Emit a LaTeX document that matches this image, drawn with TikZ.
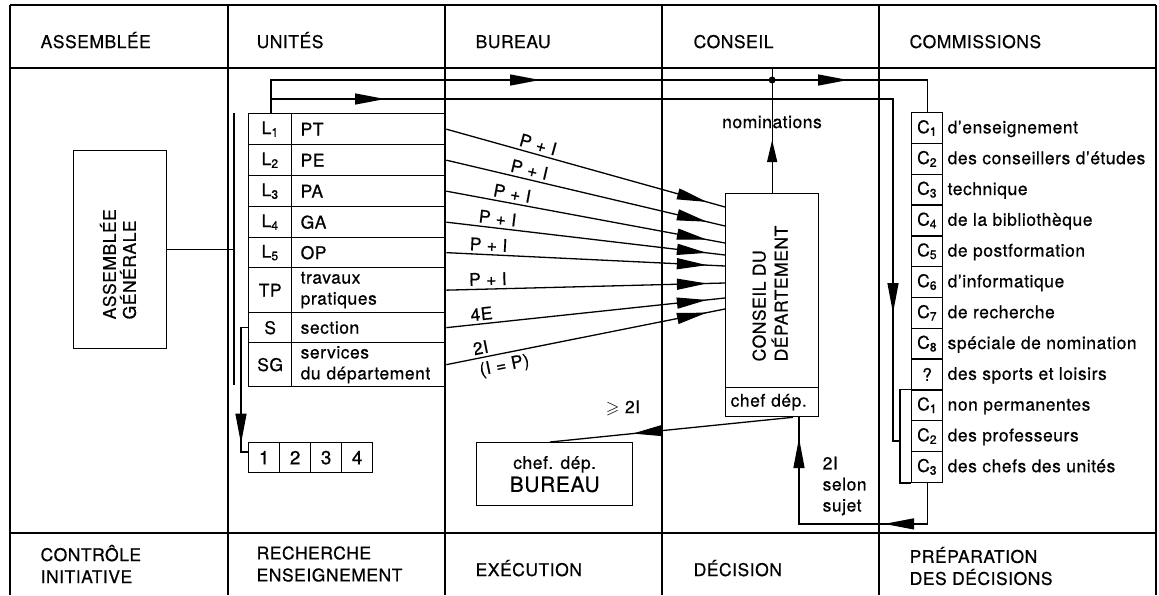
\documentclass[tikz,border=0pt]{standalone}
\usepackage{fontspec}
\setmainfont[LetterSpace=3,FakeBold=0.6]{TeX Gyre Heros}
\usepackage{amssymb}
\usetikzlibrary{arrows.meta,decorations.markings,calc}
\newcommand{\fs}{\fontsize{17.5}{21}\selectfont}
\begin{document}
\begin{tikzpicture}[x=1pt,y=-1pt,line width=1.3pt,
  every node/.style={font=\fs, inner sep=0pt},
  >={Triangle[length=30pt,width=11pt]},
  box/.style={draw, rectangle, inner sep=0pt, anchor=north west},
  code/.style={box, minimum width=43pt, minimum height=#1},
  unit/.style={box, minimum width=154pt, minimum height=#1, text width=136pt, inner xsep=9pt, align=left},
  comm/.style={box, minimum width=31pt, minimum height=30.8pt},
  lab/.style={sloped, above, inner sep=3pt, pos=#1},
  labb/.style={sloped, below, inner sep=4pt, pos=#1},
  amark/.style={postaction={decorate, decoration={markings, mark=at position #1 with {\arrow{>}}}}},
  junction/.style={circle, fill, inner sep=0pt, minimum size=7pt},
]
\useasboundingbox (0,0) rectangle (1159,595);

% frame
\draw (10,5) -- (1156,5);
\foreach \xx in {10,228,445,662,879,1156} \draw (\xx,5) -- (\xx,595);
\draw (10,68) -- (1156,68);
\draw (10,533) -- (1156,533);
\coordinate (hl) at (10,68);

% headers
\node[anchor=base west] (h1) at (40,48) {ASSEMBLÉE};
\node[anchor=base west] (h2) at (256,48) {UNITÉS};
\node[anchor=base west] (h3) at (475,48) {BUREAU};
\node[anchor=base west] (h4) at (693,48) {CONSEIL};
\node[anchor=base west] (h5) at (909,48) {COMMISSIONS};

% footers
\node[anchor=west, align=left, font=\fontsize{17.5}{22}\selectfont] (f1) at (40,564) {CONTRÔLE\\INITIATIVE};
\node[anchor=west, align=left, font=\fontsize{17.5}{22}\selectfont] (f2) at (256,564) {RECHERCHE\\ENSEIGNEMENT};
\node[anchor=base west] (f3) at (475,576) {EXÉCUTION};
\node[anchor=base west] (f4) at (693,576) {DÉCISION};
\node[anchor=west, align=left, font=\fontsize{17.5}{22}\selectfont] (f5) at (909,566) {PRÉPARATION\\DES DÉCISIONS};

% assemblee generale
\node[box, minimum width=93pt, minimum height=198pt] (AG) at (73,150) {};
\node[rotate=90, anchor=west, align=left, font=\fontsize{17.5}{20}\selectfont] (AGt) at (118,320) {ASSEMBLÉE\\GÉNÉRALE};
\coordinate (vt) at (234,113);
\coordinate (vb) at (234,385);
\draw (vt) -- (vb);
\draw (AG.east) -- (AG.east -| vt);

% units table
\node[code=31pt] (cL1) at (248,113) {L\textsubscript{1}};
\node[unit=31pt] (PT) at (291,113) {PT};
\node[code=31pt] (cL2) at (248,144) {L\textsubscript{2}};
\node[unit=31pt] (PE) at (291,144) {PE};
\node[code=31pt] (cL3) at (248,175) {L\textsubscript{3}};
\node[unit=31pt] (PA) at (291,175) {PA};
\node[code=31pt] (cL4) at (248,206) {L\textsubscript{4}};
\node[unit=31pt] (GA) at (291,206) {GA};
\node[code=30pt] (cL5) at (248,237) {L\textsubscript{5}};
\node[unit=30pt] (OP) at (291,237) {OP};
\node[code=45pt] (cTP) at (248,267) {TP};
\node[unit=45pt] (TP) at (291,267) {travaux\\pratiques};
\node[code=30pt] (cS) at (248,312) {S};
\node[unit=30pt] (SE) at (291,312) {section};
\node[code=44pt] (cSG) at (248,342) {SG};
\node[unit=44pt] (SG) at (291,342) {services\\du département};

% 1 2 3 4
\foreach \i in {1,...,4} \node[box, minimum width=31pt, minimum height=30pt, font=\fontsize{19}{21}\selectfont] (n\i) at ({248+31*(\i-1)},442) {\i};
\draw[amark=123pt] (cS.west) -- ++(-7,0) |- ($(n1.north west)+(0,10)$);

% conseil du departement
\node[box, minimum width=93pt, minimum height=194pt] (CD) at (725,193) {};
\node[box, minimum width=93pt, minimum height=29pt, text width=83pt, inner xsep=5pt, align=left] (chef) at (725,387) {chef dép.};
\node[rotate=90, anchor=west, align=left, font=\fontsize{17.5}{22}\selectfont] (CDt) at (770,362) {CONSEIL DU\\DÉPARTEMENT};

% arrows units -> conseil
\coordinate (e1) at ($(CD.north west)+(0,14)$);
\coordinate (e2) at ($(CD.north west)+(0,33)$);
\coordinate (e3) at ($(CD.north west)+(0,50)$);
\coordinate (e4) at ($(CD.north west)+(0,62)$);
\coordinate (e5) at ($(CD.north west)+(0,73)$);
\coordinate (e6) at ($(CD.north west)+(0,90)$);
\coordinate (e7) at ($(CD.north west)+(0,105)$);
\coordinate (e8) at ($(CD.north west)+(0,116)$);
\draw[amark=0.935] (PT.east) -- node[lab=0.32] (p1) {P + I} (e1);
\draw[amark=0.935] (PE.east) -- node[lab=0.29] (p2) {P + I} (e2);
\draw[amark=0.935] (PA.east) -- node[lab=0.23] (p3) {P + I} (e3);
\draw[amark=0.935] (GA.east) -- node[lab=0.18] (p4) {P + I} (e4);
\draw[amark=0.935] (OP.east) -- node[lab=0.15] (p5) {P + I} (e5);
\draw[amark=0.935] (TP.east) -- node[lab=0.15] (p6) {P + I} (e6);
\draw[amark=0.935] (SE.east) -- node[lab=0.13] (p7) {4E} (e7);
\draw[amark=0.935] (SG.east) -- node[lab=0.13] (p8) {2I} node[labb=0.2] (p9) {(I = P)} (e8);

% bureau
\node[box, minimum width=156pt, minimum height=63pt, align=center, font=\fontsize{17.5}{23}\selectfont] (BU) at (476,442) {chef. dép.\\{\fontsize{21}{23}\selectfont BUREAU}};
\coordinate (cs) at ($(chef.south west)+(68,0)$);
\coordinate (bt) at ($(BU.north west)+(74,0)$);
\draw[amark=0.66] (cs) -- (bt);
\node (ge) at (623,408) {$\geqslant$ 2I};

% commissions
\foreach \i/\cn/\ctx in {1/C\textsubscript{1}/d'enseignement,
  2/C\textsubscript{2}/des conseillers d'études,
  3/C\textsubscript{3}/technique,
  4/C\textsubscript{4}/de la bibliothèque,
  5/C\textsubscript{5}/de postformation,
  6/C\textsubscript{6}/d'informatique,
  7/C\textsubscript{7}/de recherche,
  8/C\textsubscript{8}/spéciale de nomination,
  9/?/des sports et loisirs,
  10/C\textsubscript{1}/non permanentes,
  11/C\textsubscript{2}/des professeurs,
  12/C\textsubscript{3}/des chefs des unités}{
  \node[comm] (c\i) at (911,{112+30.8*(\i-1)}) {\cn};
  \node[anchor=base west] (t\i) at (947,{112+30.8*(\i-1)+21.4}) {\ctx};
}
\draw (c10.north west) -- ++(-11,0) |- (c12.south west);
\coordinate (bm) at (900,441);

% top connectors
\coordinate (ta) at (271,113);
\coordinate (tb) at (271,99);
\draw[postaction={decorate,decoration={markings,
   mark=at position 302pt with {\arrow{>}},
   mark=at position 610pt with {\arrow{>}}}}]
  (ta) -- ++(0,-33) -| (c1.north);
\draw[postaction={decorate,decoration={markings,
   mark=at position 114pt with {\arrow{>}},
   mark=at position 836pt with {\arrow{>}}}}]
  (tb) -| ($(bm)+(-7,0)$) -- (bm);

% nominations
\draw[postaction={decorate,decoration={markings,
   mark=at position 53pt with {\arrow{Triangle[length=22pt,width=10pt]}}}}]
  (CD.north) -- (CD.north |- hl);
\node[junction] (jd) at (CD.north |- 0,80) {};
\node (nom) at (772,122) {nominations};

% bottom loop from commissions to conseil
\coordinate (cs2) at ($(chef.south west)+(74,0)$);
\draw[postaction={decorate,decoration={markings,
   mark=at position 84pt with {\arrow{>}},
   mark=at position 255pt with {\arrow{>}}}}]
  (c12.south) -- ++(0,41) -| (cs2);
\node[anchor=west, align=left] (sel) at (822,486) {2I\\selon\\sujet};
\end{tikzpicture}
\end{document}
